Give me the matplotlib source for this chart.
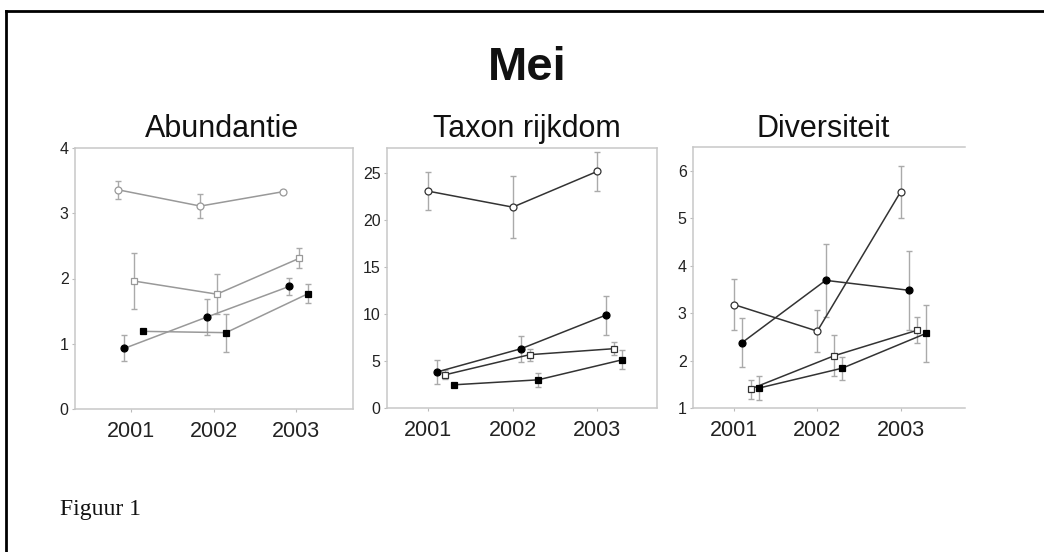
import matplotlib
matplotlib.use('Agg')
import matplotlib.pyplot as plt
from matplotlib.lines import Line2D
import numpy as np

plt.rcParams['font.family'] = ['Liberation Sans', 'DejaVu Sans']

years = [2001, 2002, 2003]
series_names = ['open circle', 'filled circle', 'open square', 'filled square']

# Abundantie
abund = [[3.36, 3.11, 3.33],
         [0.93, 1.41, 1.88],
         [1.96, 1.76, 2.31],
         [1.19, 1.17, 1.77]]
abund_err = [[0.14, 0.19, 0.03],
             [0.20, 0.27, 0.13],
             [0.43, 0.31, 0.15],
             [0.03, 0.29, 0.14]]

# Taxon rijkdom
taxon = [[23.1, 21.4, 25.2],
         [3.83, 6.32, 9.88],
         [3.54, 5.68, 6.32],
         [2.47, 3.00, 5.14]]
taxon_err = [[2.0, 3.3, 2.1],
             [1.24, 1.4, 2.1],
             [0.5, 0.65, 0.7],
             [0.2, 0.75, 1.0]]

# Diversiteit
divers = [[3.18, 2.62, 5.56],
          [2.38, 3.69, 3.48],
          [1.40, 2.10, 2.64],
          [1.42, 1.84, 2.57]]
divers_err = [[0.53, 0.44, 0.55],
              [0.52, 0.77, 0.83],
              [0.20, 0.43, 0.28],
              [0.25, 0.24, 0.61]]

titles = ['Abundantie', 'Taxon rijkdom', 'Diversiteit']

fig = plt.figure(figsize=(10.44, 5.52), dpi=100)

panels = [
    dict(rect=[75 / 1044, 1 - 409 / 552, 278 / 1044, 261 / 552],
         data=abund, err=abund_err, xlim=(2000.32, 2003.69), ylim=(0, 4),
         yticks=[0, 1, 2, 3, 4], offs=[-0.16, -0.08, 0.04, 0.15],
         line='#999999', right=True),
    dict(rect=[387 / 1044, 1 - 408 / 552, 270 / 1044, 260 / 552],
         data=taxon, err=taxon_err, xlim=(2000.51, 2003.71), ylim=(0, 27.7),
         yticks=[0, 5, 10, 15, 20, 25], offs=[0, 0.1, 0.2, 0.3],
         line='#333333', right=True),
    dict(rect=[693 / 1044, 1 - 408 / 552, 272 / 1044, 261 / 552],
         data=divers, err=divers_err, xlim=(2000.51, 2003.77), ylim=(1, 6.5),
         yticks=[1, 2, 3, 4, 5, 6], offs=[0, 0.1, 0.2, 0.3],
         line='#333333', right=False),
]

styles = [('o', 'white'), ('o', 'black'), ('s', 'white'), ('s', 'black')]

for i, p in enumerate(panels):
    ax = fig.add_axes(p['rect'])
    for k in range(4):
        x = np.array(years) + p['offs'][k]
        marker, face = styles[k]
        edge = p['line'] if face == 'white' else 'black'
        ax.errorbar(x, p['data'][k], yerr=p['err'][k], fmt='none',
                    ecolor='#aaaaaa', elinewidth=1.0, capsize=2.2,
                    capthick=1.0, zorder=1)
        ax.plot(x, p['data'][k], color=p['line'], lw=1.1, marker=marker,
                markersize=5, markerfacecolor=face, markeredgecolor=edge,
                markeredgewidth=0.9, zorder=3)
    ax.set_xlim(p['xlim'])
    ax.set_ylim(p['ylim'])
    ax.set_xticks(years)
    ax.set_xticklabels([str(y) for y in years], fontsize=15.5, color='#222222')
    ax.set_yticks(p['yticks'])
    ax.set_yticklabels([str(t) for t in p['yticks']], fontsize=11.5,
                       color='#222222')
    ax.tick_params(axis='both', length=2.5, width=0.8, color='#bbbbbb')
    ax.tick_params(axis='x', pad=6)
    ax.tick_params(axis='y', pad=2)
    for s in ax.spines.values():
        s.set_color('#c8c8c8')
        s.set_linewidth(1.1)
    if not p['right']:
        ax.spines['right'].set_visible(False)

# subplot titles
title_x = [222, 527, 823]
for t, tx in zip(titles, title_x):
    fig.text(tx / 1044, 1 - 137 / 552, t, ha='center', va='baseline',
             fontsize=22, color='#111111')

fig.text(527 / 1044, 1 - 80 / 552, 'Mei', ha='center', va='baseline',
         fontsize=34, fontweight='bold', color='#111111')

fig.text(60 / 1044, 1 - 515 / 552, 'Figuur 1', ha='left', va='baseline',
         fontsize=17, family=['Liberation Serif', 'DejaVu Serif'],
         color='#111111')

# frame around the figure (only top and left edges visible)
fig.add_artist(Line2D([6 / 1044, 1.0], [1 - 10.5 / 552, 1 - 10.5 / 552],
                      transform=fig.transFigure, color='black', lw=2))
fig.add_artist(Line2D([6 / 1044, 6 / 1044], [0.0, 1 - 10.5 / 552],
                      transform=fig.transFigure, color='black', lw=2))

fig.savefig('out.png', dpi=100)
